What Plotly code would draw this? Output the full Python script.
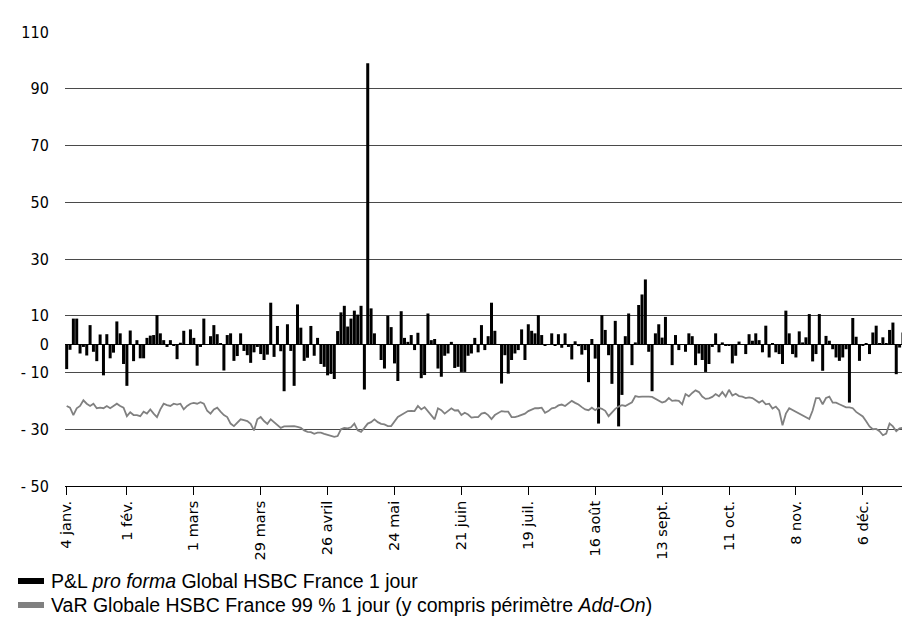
import pandas as pd
import plotly.graph_objects as go

# ---- data -------------------------------------------------------------
all_days = pd.bdate_range("2010-01-04", "2010-12-28").strftime("%Y-%m-%d").tolist()
no_data_days = ["2010-01-05", "2010-01-06"]
dates = [d for d in all_days if d not in no_data_days]

pnl = [
    -8.8, -2, 9, 9, -3.3, -1, -4, 6.7, -2.7, -6, 3.4, -11, 3.5, -5, -3, 8, 3.8, -7, -14.7, 4.8,
    -6, 1.4, -5, -5, 2.2, 3, 3.2, 10.2, 3.8, 1.4, -1,
    1.4, -0.5, -5.3, 0.5, 4.7, -0.3, 5.2, 2.2, -7.6, -1, 9, -0.3, 2.8, 6.7, 3.5, 0.3, -9.3, 3.2,
    3.8, -5.9, -4.2, 3.8, -2.4, -3.9, -6.6, -2.9, -1, -3.5, -5.6, -3.7, 14.6, -4.5, 6.4,
    -2.5, -16.6, 7, -2.4, -14.7, 14, 5.8, -5.9, -4.8, 6.4, -4.1, 2.2, -7, -8, -11, -10.5, -12.3,
    4.6, 11.2, 13.5, 6.2, 9, 11.8, 10.4, 13.5, -16,
    99,
    12.6, 3.8, -0.3, -5.6, -8.6,
    10, 6, -6.8, -13, 11.6, 2.2, 0.8, 3.2, -2.1, 4, -12, -10.9, 10.8, 1.4, 1.8, -8.6, -11.5, -4.1,
    -3.3, 0.8, -8.4, -8, -9.8, -9.8, -4.1, -3.3, 2.2, -2.9, 6.7, -2.1, 2.8, 14.6,
    4.7, 0, -13.9, -3.9, -10.4, -5.6, -3.3, -2.1, 5.2, -5.6, 7, 4.7, 3.8, 10.2, 3.2, -0.4, 0, 3.8,
    -0.4, 3.5, -1.3, 3.8, -1, -5.4, 1, -0.7, -3.7, -2.1, -13.4, 1.8, -5.1,
    -28, 10.2, 5, -3.9, -14, 8.2, -29, -17.9, 2.8, 10.8, -7.4, 0.6, 13.8, 17.5, 22.8, -2.7, -16.6,
    3.8, 7, 2.3, 9.6, -0.3, -7.4, 3.2, -2.1, 0, -2.7, 3.8, 2.8, -7.4, -3.3, -5.6, -9.8, -7,
    -1.0, 3.8, -2.9, 0.6, -0.5, -0.6, -6.8, -4.1, 0.9, -0.3, -3.5, 3.5, 1.2, 3.8, 1.4, -2.9, 6.5,
    -4.7, 0.2, -2.9, -3.5, -7.0, 11.8, 3.8, -3.5, -4.7, 4.5, 0.6, 2.4, 10.6, -6.1, -3.5, 10.6,
    -9.4, 2.9, 1.2, -1.8, -4.7, -5.9, -4.7, -1.8, -20.6, 9.2, 2.6, -5.9, -0.5, 0.2, -3.5, 4.1,
    6.5, 0.3, 2.4, 0.3, 5.0, 7.6, -10.6, -1.2, 4.1, 8.8, -12.7, 7.6, -5.9,
]

var = [
    -21.8, -22.4, -25.0, -22.6, -21.8, -19.8, -21.0, -21.8, -21.0, -22.6,
    -22.4, -22.6, -21.8, -22.6, -21.8, -21.0, -21.8, -22.4, -25.4, -24.0,
    -25.0, -25.0, -25.4, -23.8, -24.5, -23.0, -24.5, -25.7, -23.0, -21.0,
    -21.5, -21.8, -21.0, -21.3, -21.0, -23.0, -21.8, -21.0, -20.7, -21.0,
    -20.5, -21.0, -23.5, -24.5, -23.0, -22.4, -23.8, -25.0, -25.7, -28.0,
    -28.9, -27.5, -26.5, -26.8, -27.1, -28.1, -30.4, -26.5, -25.7, -27.1,
    -28.1, -26.5, -27.5, -28.5, -29.5, -29.0, -29.0, -29.0, -28.9, -29.2,
    -29.5, -30.4, -30.9, -31.0, -31.6, -31.2, -31.2, -31.6, -32.0, -32.4,
    -32.7, -32.4, -30.0, -29.5, -29.7, -29.3, -28.0, -30.4, -30.9, -29.5,
    -28.0, -27.5, -26.5, -27.5, -28.1, -28.3, -28.9, -28.9, -27.1, -25.7,
    -25.0, -24.2, -23.6, -23.5, -23.6, -21.8, -23.0, -22.2, -23.6, -25.0,
    -26.5, -22.6, -23.3, -24.5, -23.6, -22.6, -23.4, -23.3, -25.0, -24.2,
    -24.8, -25.9, -25.7, -25.7, -24.5, -24.2, -25.0, -26.4, -25.0, -24.2,
    -23.6, -23.8, -23.8, -25.7, -25.7, -25.4, -25.0, -24.5, -23.6, -23.0,
    -22.6, -22.6, -22.4, -24.2, -23.6, -22.6, -22.4, -21.6, -21.3, -21.8,
    -21.0, -20.0, -20.7, -21.3, -22.2, -23.0, -23.3, -22.4, -23.3, -22.4,
    -22.8, -23.5, -25.4, -24.2, -22.8, -22.0, -21.5, -21.8, -21.2, -20.5,
    -18.3, -18.6, -18.5, -18.4, -18.5, -18.6, -19.2, -20.0, -20.6, -20.2,
    -19.0, -20.0, -19.8, -20.0, -21.2, -17.6, -18.4, -17.2, -16.3, -16.9,
    -18.5, -19.3, -19.1, -18.6, -17.6, -18.4, -16.9, -18.5, -16.1, -18.1,
    -17.5, -18.3, -18.5, -19.0, -18.8, -19.0, -19.8, -20.6, -19.9, -21.2,
    -21.0, -22.7, -22.0, -23.4, -28.6, -24.5, -22.6, -23.2, -23.8, -24.5,
    -25.0, -25.6, -26.4, -23.4, -19.0, -19.0, -21.2, -19.0, -18.5, -20.6,
    -20.6, -21.2, -21.7, -22.3, -22.3, -22.6, -23.9, -24.6, -25.5, -27.2,
    -29.0, -30.0, -29.9, -30.7, -32.1, -31.5, -28.0, -29.0, -30.7, -29.7,
    -29.5, -30.7, -29.0, -29.9, -31.1,
]

tick_dates = ["2010-01-04", "2010-02-01", "2010-03-01", "2010-03-29", "2010-04-26",
              "2010-05-24", "2010-06-21", "2010-07-19", "2010-08-16", "2010-09-13",
              "2010-10-11", "2010-11-08", "2010-12-06"]
tick_labels = ["4 janv.", "1 fév.", "1 mars", "29 mars", "26 avril", "24 mai", "21 juin",
               "19 juil.", "16 août", "13 sept.", "11 oct.", "8 nov.", "6 déc."]

y_ticks = [110, 90, 70, 50, 30, 10, 0, -10, -30, -50]
y_labels = ["110", "90", "70", "50", "30", "10", "0", "- 10", "- 30", "- 50"]

legend_pnl = "P&L <i>pro forma</i> Global HSBC France 1 jour"
legend_var = "VaR Globale HSBC France 99 % 1 jour (y compris périmètre <i>Add-On</i>)"

# ---- figure -----------------------------------------------------------
NARROW = "DejaVu Sans Condensed, Liberation Sans Narrow, sans-serif"
WIDE = "DejaVu Sans, Verdana, sans-serif"
LEG = "Liberation Sans, Arial, sans-serif"
W, H = 910, 630
ML, MR, MT, MB = 57, 0, 24, 152
PW, PH = W - ML - MR, H - MT - MB

fig = go.Figure()
fig.add_trace(go.Bar(x=dates, y=pnl, marker_color="#000000", marker_line_width=0,
                     name="P&L", showlegend=False))
fig.add_trace(go.Scatter(x=dates, y=var, mode="lines",
                         line=dict(color="#808080", width=1.8),
                         name="VaR", showlegend=False))

fig.update_layout(
    width=W, height=H,
    margin=dict(l=ML, r=MR, t=MT, b=MB),
    paper_bgcolor="white", plot_bgcolor="white",
    bargap=0.1,
    font=dict(family=NARROW, color="#000000", size=15),
)
fig.update_xaxes(
    type="category", tickmode="array", tickvals=tick_dates, ticktext=tick_labels,
    tickangle=-90, ticks="outside", ticklen=8, tickcolor="#000000", tickwidth=1,
    showgrid=False, showline=True, linecolor="#000000", linewidth=1, zeroline=False,
    tickfont=dict(family=WIDE, size=14.5, color="#000000"),
)
fig.update_yaxes(
    range=[-50, 110], tickmode="array", tickvals=y_ticks, ticktext=y_labels,
    showgrid=True, gridcolor="#4a4a4a", gridwidth=1,
    zeroline=True, zerolinecolor="#000000", zerolinewidth=1,
    showline=False, ticks="outside", ticklen=12, tickcolor="rgba(0,0,0,0)",
    tickfont=dict(family=NARROW, size=16, color="#000000"),
)

def px_x(px):
    return (px - ML) / PW

def px_y(py):
    return (H - MB - py) / PH

# legend drawn manually
for py, col, txt in [(573, "#000000", legend_pnl), (597, "#808080", legend_var)]:
    fig.add_shape(type="rect", xref="paper", yref="paper",
                  x0=px_x(10), x1=px_x(36), y0=px_y(py - 3), y1=px_y(py + 3),
                  fillcolor=col, line_width=0)
    fig.add_annotation(xref="paper", yref="paper", x=px_x(41), y=px_y(py),
                       text=txt, showarrow=False, xanchor="left", yanchor="middle",
                       font=dict(family=LEG, size=19.5, color="#000000"))

fig.write_html("out.html")
